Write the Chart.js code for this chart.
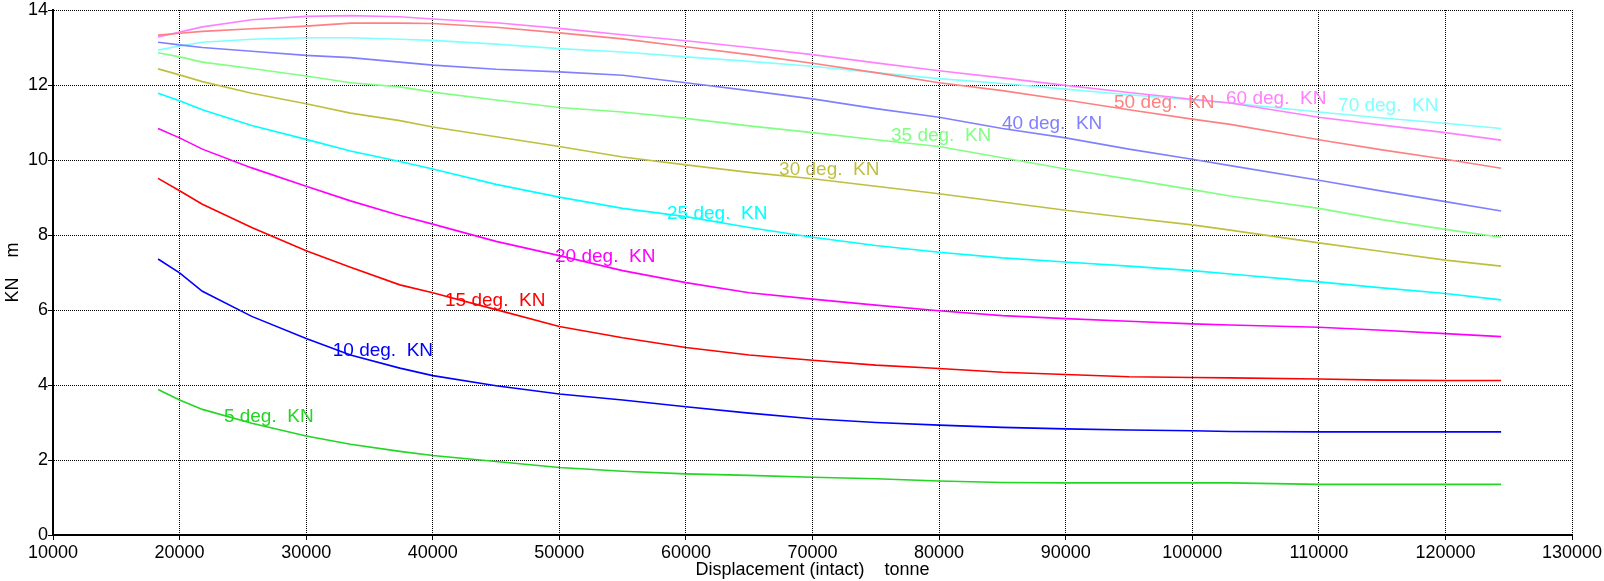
<!DOCTYPE html>
<html>
<head>
<meta charset="utf-8">
<script src="https://cdn.jsdelivr.net/npm/chart.js@4.4.0/dist/chart.umd.min.js"></script>
<style>
html,body{margin:0;padding:0;background:#fff;}
#wrap{width:1604px;height:581px;position:relative;}
</style>
</head>
<body>
<div id="wrap"><canvas id="c" width="1604" height="581"></canvas></div>
<script>
// Displacement (tonne)
const displacement = [18300, 20000, 21800, 25700, 30000, 33500, 37400, 40000, 45000, 50000, 55000, 60000, 65000, 70000, 75000, 80000, 85000, 90000, 95000, 100000, 103000, 110000, 115000, 120000, 124400];

// KN values (m) per heel angle
const kn5  = [3.88, 3.60, 3.35, 2.98, 2.64, 2.42, 2.23, 2.12, 1.96, 1.80, 1.70, 1.63, 1.59, 1.54, 1.50, 1.44, 1.40, 1.39, 1.39, 1.39, 1.39, 1.35, 1.35, 1.35, 1.35];
const kn10 = [7.36, 6.99, 6.50, 5.83, 5.24, 4.80, 4.45, 4.25, 3.98, 3.76, 3.60, 3.42, 3.25, 3.10, 3.00, 2.93, 2.87, 2.83, 2.80, 2.78, 2.76, 2.75, 2.75, 2.75, 2.75];
const kn15 = [9.51, 9.18, 8.82, 8.20, 7.58, 7.14, 6.67, 6.46, 6.01, 5.56, 5.26, 5.00, 4.80, 4.66, 4.53, 4.44, 4.34, 4.28, 4.22, 4.20, 4.19, 4.16, 4.13, 4.12, 4.12];
const kn20 = [10.84, 10.59, 10.29, 9.79, 9.30, 8.91, 8.52, 8.29, 7.83, 7.45, 7.05, 6.73, 6.46, 6.29, 6.13, 5.98, 5.85, 5.77, 5.70, 5.63, 5.60, 5.54, 5.46, 5.37, 5.29];
const kn25 = [11.78, 11.58, 11.34, 10.92, 10.55, 10.24, 9.96, 9.76, 9.35, 9.01, 8.71, 8.49, 8.20, 7.94, 7.72, 7.54, 7.39, 7.28, 7.17, 7.05, 6.96, 6.75, 6.59, 6.44, 6.27];
const kn30 = [12.43, 12.27, 12.09, 11.78, 11.50, 11.25, 11.05, 10.88, 10.62, 10.36, 10.08, 9.87, 9.67, 9.50, 9.30, 9.10, 8.88, 8.66, 8.46, 8.27, 8.13, 7.79, 7.56, 7.33, 7.17];
const kn35 = [12.86, 12.75, 12.61, 12.44, 12.24, 12.06, 11.95, 11.81, 11.60, 11.40, 11.28, 11.11, 10.91, 10.73, 10.54, 10.36, 10.06, 9.76, 9.49, 9.21, 9.04, 8.71, 8.41, 8.15, 7.94];
const kn40 = [13.14, 13.07, 13.00, 12.90, 12.79, 12.73, 12.61, 12.53, 12.42, 12.35, 12.26, 12.06, 11.85, 11.63, 11.37, 11.14, 10.84, 10.59, 10.29, 10.02, 9.85, 9.46, 9.17, 8.89, 8.64];
const kn50 = [13.33, 13.38, 13.43, 13.50, 13.57, 13.65, 13.65, 13.64, 13.54, 13.39, 13.23, 13.02, 12.81, 12.58, 12.33, 12.06, 11.85, 11.60, 11.34, 11.09, 10.95, 10.54, 10.27, 10.02, 9.78];
const kn60 = [13.28, 13.41, 13.55, 13.74, 13.83, 13.85, 13.82, 13.76, 13.66, 13.51, 13.34, 13.18, 13.00, 12.81, 12.59, 12.38, 12.19, 11.99, 11.80, 11.62, 11.52, 11.14, 10.93, 10.73, 10.53];
const kn70 = [12.93, 13.04, 13.14, 13.22, 13.26, 13.26, 13.22, 13.19, 13.09, 12.97, 12.88, 12.75, 12.63, 12.50, 12.33, 12.17, 12.04, 11.89, 11.74, 11.60, 11.52, 11.28, 11.12, 10.98, 10.84];

const seriesNames = ['5 deg.  KN', '10 deg.  KN', '15 deg.  KN', '20 deg.  KN', '25 deg.  KN', '30 deg.  KN', '35 deg.  KN', '40 deg.  KN', '50 deg.  KN', '60 deg.  KN', '70 deg.  KN'];
const seriesValues = [kn5, kn10, kn15, kn20, kn25, kn30, kn35, kn40, kn50, kn60, kn70];

// Curve label anchors (data units: left edge displacement, vertical centre KN)
const labelAtX = [23500, 32100, 40970, 49660, 58510, 67360, 76200, 84970, 93820, 102670, 111520];
const labelAtY = [3.15, 4.91, 6.24, 7.41, 8.56, 9.73, 10.64, 10.96, 11.52, 11.63, 11.44];

const xTickLabels = ['10000','20000','30000','40000','50000','60000','70000','80000','90000','100000','110000','120000','130000'];
const yTickLabels = ['0','2','4','6','8','10','12','14'];

const xTitle = 'Displacement (intact)    tonne';
const yTitle = 'KN    m';

const colors = ['#22d622', '#0000ff', '#ff0000', '#ff00ff', '#00ffff', '#bfbf3f', '#80ff80', '#8080ff', '#ff8080', '#ff80ff', '#80ffff'];

const FONT = '"Liberation Sans", Arial, Helvetica, sans-serif';

const datasets = seriesValues.map((vals, i) => ({
  label: seriesNames[i],
  data: vals.map((v, j) => ({x: displacement[j], y: v})),
  borderColor: colors[i],
  backgroundColor: colors[i],
  borderWidth: 1.6,
  pointRadius: 0,
  fill: false,
  tension: 0
}));

const curveLabels = {
  id: 'curveLabels',
  afterDatasetsDraw(chart) {
    const {ctx, scales: {x, y}} = chart;
    ctx.save();
    ctx.font = '19px ' + FONT;
    ctx.textAlign = 'left';
    ctx.textBaseline = 'middle';
    seriesNames.forEach((name, i) => {
      ctx.fillStyle = colors[i];
      ctx.fillText(name, x.getPixelForValue(labelAtX[i]), y.getPixelForValue(labelAtY[i]));
    });
    ctx.restore();
  }
};

new Chart(document.getElementById('c'), {
  type: 'line',
  data: { datasets },
  plugins: [curveLabels],
  options: {
    responsive: false,
    animation: false,
    events: [],
    layout: { padding: { top: 10, right: 32, left: 0, bottom: 0 } },
    plugins: { legend: { display: false }, tooltip: { enabled: false } },
    scales: {
      x: {
        type: 'linear',
        min: 10000, max: 130000,
        afterBuildTicks(scale) {
          scale.ticks = xTickLabels.map(t => ({ value: Number(t) }));
        },
        afterFit(scale) { scale.height = 46; scale.paddingLeft = 0; scale.paddingRight = 0; },
        ticks: {
          autoSkip: false, maxRotation: 0, minRotation: 0, padding: 2,
          color: '#000', font: { family: FONT, size: 18 },
          callback: (v, i) => xTickLabels[i]
        },
        grid: { color: '#000', lineWidth: 1, tickLength: 5, tickColor: '#000', tickWidth: 1, tickBorderDash: [] },
        border: { display: true, color: '#000', width: 2, dash: [1, 1] },
        title: { display: true, text: xTitle, color: '#000', font: { family: FONT, size: 18 }, padding: { top: 0, bottom: 0 } }
      },
      y: {
        type: 'linear',
        min: 0, max: 14,
        afterBuildTicks(scale) {
          scale.ticks = yTickLabels.map(t => ({ value: Number(t) }));
        },
        afterFit(scale) { scale.width = 53; scale.paddingTop = 0; scale.paddingBottom = 0; },
        ticks: {
          autoSkip: false, padding: 0,
          color: '#000', font: { family: FONT, size: 18 },
          callback: (v, i) => yTickLabels[i]
        },
        grid: { color: '#000', lineWidth: 1, tickLength: 5, tickColor: '#000', tickWidth: 1, tickBorderDash: [] },
        border: { display: true, color: '#000', width: 2, dash: [1, 1] },
        title: { display: true, text: yTitle, color: '#000', font: { family: FONT, size: 18 }, padding: { top: 2, bottom: 0 } }
      }
    }
  }
});
</script>
</body>
</html>
